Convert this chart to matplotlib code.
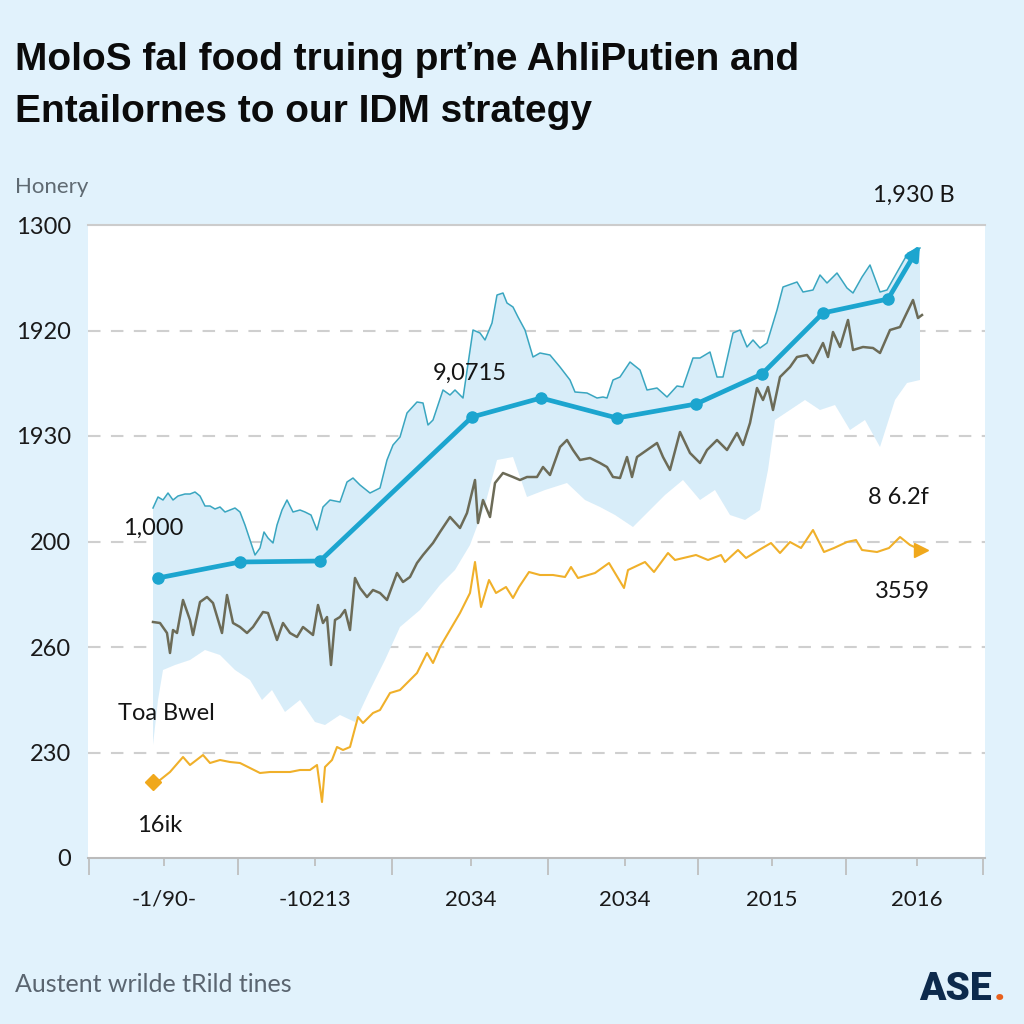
import numpy as np
import matplotlib
matplotlib.use('Agg')
import matplotlib.pyplot as plt

# thin teal line (upper edge of the band)
teal_x = [153, 158, 163, 168, 173, 178, 185, 190, 195, 200, 205, 210, 215, 220, 225, 230, 235, 240,
          245, 250, 255, 260, 264, 268, 273, 277, 282, 287, 293, 300, 305, 311, 317, 323, 330, 340,
          347, 353, 360, 370, 380, 387, 393, 400, 407, 417, 423, 428, 433, 443, 450, 455, 463, 473,
          480, 485, 492, 497, 503, 507, 513, 518, 525, 533, 540, 550, 560, 570, 575, 587, 597, 603,
          607, 613, 620, 630, 640, 647, 657, 667, 677, 683, 693, 700, 710, 717, 723, 733, 740, 747,
          753, 760, 767, 777, 783, 797, 803, 813, 820, 827, 837, 847, 853, 862, 870, 880, 887, 900,
          908, 920]
teal_y = [350, 361, 358, 365, 358, 362, 364, 364, 366, 362, 352, 352, 349, 351, 346, 348, 350, 346,
          333, 318, 303, 310, 326, 320, 315, 333, 348, 358, 346, 348, 346, 343, 328, 351, 358, 356,
          376, 380, 373, 365, 370, 398, 413, 421, 445, 456, 455, 433, 438, 468, 463, 468, 460, 528,
          525, 518, 535, 563, 565, 555, 551, 541, 528, 501, 505, 503, 491, 478, 466, 465, 460, 461,
          460, 478, 481, 496, 488, 468, 470, 461, 472, 471, 500, 500, 506, 481, 481, 525, 528, 511,
          518, 510, 515, 548, 571, 576, 566, 568, 583, 575, 585, 570, 565, 581, 593, 566, 568, 591,
          605, 610]

# lower edge of the band
low_x = [153, 158, 163, 175, 190, 205, 220, 235, 250, 262, 272, 285, 300, 315, 325, 340, 355, 370,
         385, 400, 420, 440, 455, 470, 485, 497, 513, 527, 545, 567, 585, 600, 615, 633, 650, 665,
         683, 700, 715, 730, 745, 760, 768, 775, 790, 805, 820, 835, 850, 865, 880, 895, 907, 920]
low_y = [113, 158, 188, 193, 198, 208, 203, 188, 178, 158, 168, 146, 158, 136, 133, 143, 136, 168,
         198, 231, 248, 273, 288, 313, 353, 398, 401, 361, 368, 375, 358, 351, 343, 331, 348, 363,
         378, 358, 368, 343, 338, 348, 388, 438, 448, 458, 448, 453, 428, 438, 411, 458, 475, 478]

# olive line
olive_x = [153, 160, 167, 170, 173, 177, 183, 190, 193, 200, 207, 213, 222, 227, 233, 240, 247, 253,
           263, 268, 277, 283, 290, 297, 303, 313, 318, 323, 327, 331, 335, 340, 345, 350, 355, 360,
           367, 373, 380, 387, 397, 403, 410, 417, 423, 433, 440, 450, 460, 467, 475, 478, 483, 490,
           495, 503, 513, 520, 527, 537, 543, 550, 560, 567, 573, 580, 590, 600, 607, 613, 620, 627,
           632, 637, 647, 657, 663, 670, 680, 690, 700, 707, 717, 727, 737, 743, 750, 757, 763, 768,
           773, 780, 790, 797, 807, 813, 823, 828, 833, 840, 848, 853, 863, 873, 880, 890, 900, 913,
           918, 922]
olive_y = [236, 235, 225, 205, 228, 225, 258, 238, 223, 256, 261, 255, 225, 263, 235, 231, 225, 231,
           246, 245, 218, 235, 225, 221, 231, 223, 253, 235, 241, 193, 238, 241, 248, 228, 280, 270,
           261, 268, 265, 258, 285, 276, 281, 295, 303, 315, 326, 341, 330, 345, 378, 335, 358, 341,
           375, 385, 381, 378, 381, 381, 391, 383, 411, 418, 408, 398, 400, 395, 391, 381, 380, 401,
           381, 401, 408, 415, 401, 388, 426, 405, 395, 408, 418, 408, 425, 413, 435, 470, 458, 471,
           448, 481, 491, 501, 503, 495, 515, 501, 526, 511, 538, 508, 511, 510, 505, 528, 531, 558,
           540, 543]

# orange line
orange_x = [153, 160, 170, 183, 190, 203, 210, 220, 230, 240, 250, 260, 270, 280, 290, 300, 310, 317,
            322, 325, 332, 337, 343, 350, 358, 363, 373, 380, 390, 400, 410, 417, 427, 433, 440, 450,
            460, 470, 475, 481, 489, 496, 506, 513, 519, 529, 540, 553, 565, 571, 578, 595, 609, 624,
            628, 645, 654, 668, 675, 696, 708, 721, 725, 738, 746, 759, 771, 780, 790, 801, 813, 824,
            834, 847, 856, 862, 877, 889, 900, 910, 921]
orange_y = [76, 78, 86, 101, 93, 103, 95, 98, 96, 95, 90, 85, 86, 86, 86, 88, 88, 93,
            56, 91, 98, 111, 108, 111, 141, 135, 145, 148, 165, 168, 178, 185, 205, 195, 211, 228,
            245, 265, 296, 251, 278, 265, 271, 260, 271, 286, 283, 283, 281, 291, 280, 285, 295, 270,
            288, 296, 286, 305, 298, 303, 298, 303, 296, 308, 300, 308, 315, 305, 316, 310, 328, 306,
            310, 316, 318, 308, 306, 310, 321, 313, 308]

# thick blue line with markers
main_x = [158, 240, 320, 472, 541, 617, 696, 762, 823, 888, 920]
main_y = [280, 296, 297, 441, 460, 440, 454, 484, 545, 559, 613]

grid_vals = [0, 105.5, 211, 316.5, 422, 527.5, 633]
y_labels = ['0', '230', '260', '200', '1930', '1920', '1300']
x_label_pos = [164, 315, 471, 625, 772, 917]
x_labels = ['-1/90-', '-10213', '2034', '2034', '2015', '2016']
x_major = [89, 238, 392, 548, 698, 846, 983]

BG = '#e1f2fc'
fig = plt.figure(figsize=(10.24, 10.24), dpi=100)
fig.patch.set_facecolor(BG)
ax = fig.add_axes([88 / 1024, 1 - 858 / 1024, (985 - 88) / 1024, (858 - 225) / 1024])
ax.set_facecolor('white')
ax.set_xlim(88, 985)
ax.set_ylim(0, 633)

for g in grid_vals[1:-1]:
    ax.axhline(g, color='#cfcfcf', lw=1.5, ls=(0, (6, 5)), zorder=1)

ax.fill(np.concatenate([teal_x, low_x[::-1]]), np.concatenate([teal_y, low_y[::-1]]),
        color='#d8edf9', lw=0, zorder=2)
ax.plot(teal_x, teal_y, color='#3aa6c0', lw=1.1, zorder=3)
ax.plot(olive_x, olive_y, color='#6c6b57', lw=1.8, zorder=4)
ax.plot(orange_x, orange_y, color='#f0b02a', lw=1.5, zorder=4)
ax.plot(orange_x[0], orange_y[0], marker='D', color='#f0a81c', ms=8, zorder=5)
ax.plot(orange_x[-1], orange_y[-1], marker='>', color='#f0a81c', ms=10, zorder=5)

ax.plot(main_x[:-1], main_y[:-1], color='#1ca5cf', lw=3.4, marker='o', ms=8,
        solid_capstyle='round', zorder=6)
ax.annotate('', xy=(main_x[-1], main_y[-1]), xytext=(main_x[-2], main_y[-2]),
            arrowprops=dict(arrowstyle='-|>', color='#1ca5cf', lw=3.4, mutation_scale=20,
                            shrinkA=0, shrinkB=0), zorder=6)

for s in ['left', 'right']:
    ax.spines[s].set_visible(False)
ax.spines['top'].set_color('#cccccc')
ax.spines['top'].set_linewidth(1.5)
ax.spines['bottom'].set_color('#bbbbbb')
ax.spines['bottom'].set_linewidth(1.5)

ax.set_yticks(grid_vals)
ax.set_yticklabels(y_labels, fontsize=17, family='Lato', color='#1a1a1a')
ax.tick_params(axis='y', length=0, pad=12)
ax.set_xticks(x_major)
ax.set_xticklabels([])
ax.tick_params(axis='x', length=12, width=1.2, color='#bbbbbb')
ax.set_xticks(x_label_pos, minor=True)
ax.set_xticklabels(x_labels, minor=True, fontsize=16, family='Lato', color='#1a1a1a')
ax.tick_params(axis='x', which='minor', length=6, width=1.2, color='#bbbbbb', pad=17)

txt = dict(fontsize=17, family='Lato', color='#151515', zorder=8)
ax.text(433, 858 - 373, '9,0715', va='center', ha='left', **txt)
ax.text(123, 858 - 528, '1,000', va='center', ha='left', **txt)
ax.text(868, 858 - 497, '8 6.2f', va='center', ha='left', **txt)
ax.text(875, 858 - 591, '3559', va='center', ha='left', **txt)
ax.text(118, 858 - 713, 'Toa Bwel', va='center', ha='left', **txt)
ax.text(137, 858 - 825, '16ik', va='center', ha='left', **txt)
ax.text(873, 858 - 195, '1,930 B', va='center', ha='left', clip_on=False, **txt)

fig.text(15 / 1024, 1 - 70 / 1024, 'MoloS fal food truing prťne AhliPutien and',
         fontsize=28, fontweight='bold', family='Liberation Sans', color='#0b0b0b', va='baseline')
fig.text(15 / 1024, 1 - 122 / 1024, 'Entailornes to our IDM strategy',
         fontsize=28, fontweight='bold', family='Liberation Sans', color='#0b0b0b', va='baseline')
fig.text(15 / 1024, 1 - 187 / 1024, 'Honery', fontsize=16, family='Lato', color='#5f6a72',
         va='center')
fig.text(15 / 1024, 1 - 985 / 1024, 'Austent wrilde tRild tines', fontsize=18, family='Lato',
         color='#5a6570', va='center')
fig.text(992 / 1024, 1 - 990 / 1024, 'ASE', fontsize=28, fontweight='black', family='Roboto',
         color='#0d2a4c', va='center', ha='right')
fig.text(994 / 1024, 1 - 990 / 1024, '.', fontsize=28, fontweight='black', family='Roboto',
         color='#e8601c', va='center', ha='left')

fig.savefig('out.png', dpi=100, facecolor=BG)
